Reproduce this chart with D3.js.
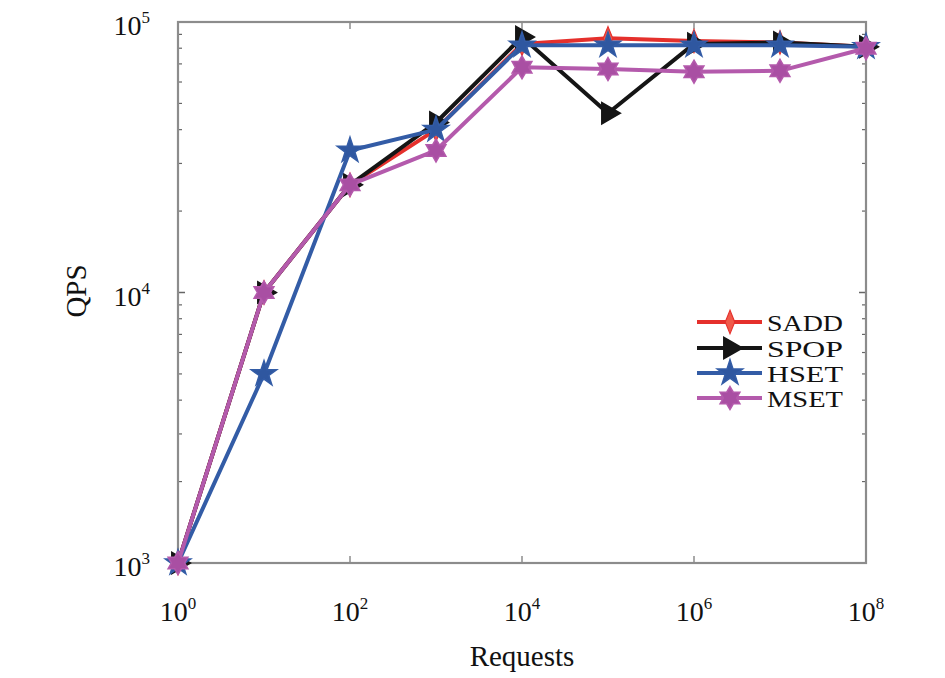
<!DOCTYPE html>
<html>
<head>
<meta charset="utf-8">
<script src="https://cdn.jsdelivr.net/npm/d3@7"></script>
<style>
  body { margin: 0; background: #fff; }
  text { font-family: "Liberation Serif", "Times New Roman", serif; fill: #111; }
</style>
</head>
<body>
<div id="chart"></div>
<script>
// requests (x) for every series
var requests = [1, 1e1, 1e2, 1e3, 1e4, 1e5, 1e6, 1e7, 1e8];

// QPS values
var sadd = [1000, 10000, 25000, 40000, 83000, 87000, 85000, 84000, 81000];
var spop = [1000, 10000, 25000, 42500, 88000, 46000, 83000, 84000, 81000];
var hset = [1000, 5000, 33500, 40000, 82000, 82000, 82000, 82000, 81000];
var mset = [1000, 10000, 25000, 33500, 68000, 67000, 65500, 66000, 80000];

var seriesNames = ["SADD", "SPOP", "HSET", "MSET"];
var xTickExp = [0, 2, 4, 6, 8];
var yTickExp = [3, 4, 5];

var width = 945, height = 678;
var margin = {top: 22, right: 79, bottom: 115, left: 178};

var svg = d3.select("#chart")
  .append("svg")
    .attr("width", width)
    .attr("height", height);

var x = d3.scaleLog()
  .domain([1, 1e8])
  .range([margin.left, width - margin.right]);

var y = d3.scaleLog()
  .domain([1e3, 1e5])
  .range([height - margin.bottom, margin.top]);

var axisColor = "#8c8c8c";

// minor log ticks on the y axis (left and right)
var minor = [];
[1e3, 1e4].forEach(function(d) {
  for (var k = 2; k <= 9; k++) minor.push(d * k);
});

svg.selectAll(".minor-l")
  .data(minor)
  .enter()
  .append("line")
    .attr("x1", x(1)).attr("x2", x(1) + 4)
    .attr("y1", function(d) { return y(d); })
    .attr("y2", function(d) { return y(d); })
    .attr("stroke", "#666").attr("stroke-width", 1.2);

svg.selectAll(".minor-r")
  .data(minor)
  .enter()
  .append("line")
    .attr("x1", x(1e8)).attr("x2", x(1e8) - 4)
    .attr("y1", function(d) { return y(d); })
    .attr("y2", function(d) { return y(d); })
    .attr("stroke", "#666").attr("stroke-width", 1.2);

// major ticks
xTickExp.forEach(function(e) {
  var px = x(Math.pow(10, e));
  svg.append("line").attr("x1", px).attr("x2", px)
    .attr("y1", y(1e3)).attr("y2", y(1e3) - 7)
    .attr("stroke", axisColor).attr("stroke-width", 1.5);
  svg.append("line").attr("x1", px).attr("x2", px)
    .attr("y1", y(1e5)).attr("y2", y(1e5) + 7)
    .attr("stroke", axisColor).attr("stroke-width", 1.5);
});
yTickExp.forEach(function(e) {
  var py = y(Math.pow(10, e));
  svg.append("line").attr("x1", x(1)).attr("x2", x(1) + 7)
    .attr("y1", py).attr("y2", py)
    .attr("stroke", "#666").attr("stroke-width", 1.5);
  svg.append("line").attr("x1", x(1e8)).attr("x2", x(1e8) - 7)
    .attr("y1", py).attr("y2", py)
    .attr("stroke", "#666").attr("stroke-width", 1.5);
});

// frame
svg.append("rect")
  .attr("x", x(1))
  .attr("y", y(1e5))
  .attr("width", x(1e8) - x(1))
  .attr("height", y(1e3) - y(1e5))
  .attr("fill", "none")
  .attr("stroke", axisColor)
  .attr("stroke-width", 2.2);

// tick labels
var xl = svg.selectAll(".xlab")
  .data(xTickExp)
  .enter()
  .append("text")
    .attr("class", "xlab")
    .attr("x", function(d) { return x(Math.pow(10, d)); })
    .attr("y", 621)
    .attr("text-anchor", "middle")
    .style("font-size", "28px");
xl.append("tspan").text("10");
xl.append("tspan").attr("dy", -12).style("font-size", "17px").text(function(d) { return d; });

var yl = svg.selectAll(".ylab")
  .data(yTickExp)
  .enter()
  .append("text")
    .attr("class", "ylab")
    .attr("x", 150)
    .attr("y", function(d) { return y(Math.pow(10, d)) + 13; })
    .attr("text-anchor", "end")
    .style("font-size", "28px");
yl.append("tspan").text("10");
yl.append("tspan").attr("dy", -12).style("font-size", "17px").text(function(d) { return d; });

// axis titles
svg.append("text")
  .attr("x", 522)
  .attr("y", 666)
  .attr("text-anchor", "middle")
  .style("font-size", "29px")
  .text("Requests");

svg.append("text")
  .attr("transform", "translate(86,291) rotate(-90)")
  .attr("text-anchor", "middle")
  .style("font-size", "29px")
  .text("QPS");

// hexagram symbol for MSET
var symbolHexagram = {
  draw: function(context, size) {
    var r = Math.sqrt(size / 1.6);
    var ri = r * 0.58;
    for (var i = 0; i < 12; i++) {
      var a = -Math.PI / 2 + i * Math.PI / 6;
      var rr = i % 2 === 0 ? r : ri;
      if (i === 0) context.moveTo(rr * Math.cos(a), rr * Math.sin(a));
      else context.lineTo(rr * Math.cos(a), rr * Math.sin(a));
    }
    context.closePath();
  }
};

var series = [
  {name: seriesNames[0], values: sadd, color: "#e5302c", fill: "#f05a4a", symbol: d3.symbolDiamond, size: 160, rot: 0, scaleX: 0.7},
  {name: seriesNames[1], values: spop, color: "#151515", fill: "#151515", symbol: d3.symbolTriangle, size: 200, rot: 90, scaleX: 1},
  {name: seriesNames[2], values: hset, color: "#335ca6", fill: "#2f57a0", symbol: d3.symbolStar, size: 200, rot: 0, scaleX: 1},
  {name: seriesNames[3], values: mset, color: "#b45aac", fill: "#a94fa3", symbol: symbolHexagram, size: 210, rot: 0, scaleX: 1}
];

var line = d3.line()
  .x(function(d) { return x(d[0]); })
  .y(function(d) { return y(d[1]); });

series.forEach(function(s) {
  var pts = requests.map(function(r, i) { return [r, s.values[i]]; });
  var g = svg.append("g");
  g.append("path")
    .datum(pts)
    .attr("fill", "none")
    .attr("stroke", s.color)
    .attr("stroke-width", 4)
    .attr("stroke-linejoin", "round")
    .attr("d", line);
  g.selectAll("path.mk")
    .data(pts)
    .enter()
    .append("path")
      .attr("class", "mk")
      .attr("d", d3.symbol().type(s.symbol).size(s.size))
      .attr("fill", s.fill)
      .attr("stroke", s.color)
      .attr("stroke-width", 1.5)
      .attr("transform", function(d) {
        return "translate(" + x(d[0]) + "," + y(d[1]) + ") rotate(" + s.rot + ") scale(" + s.scaleX + ",1)";
      });
});

// legend
var legend = svg.append("g");
var rowY = [322, 348, 373, 398];
series.forEach(function(s, i) {
  var ly = rowY[i];
  legend.append("line")
    .attr("x1", 697).attr("x2", 762)
    .attr("y1", ly).attr("y2", ly)
    .attr("stroke", s.color).attr("stroke-width", 4);
  legend.append("path")
    .attr("d", d3.symbol().type(s.symbol).size(s.size))
    .attr("fill", s.fill)
    .attr("stroke", s.color)
    .attr("stroke-width", 1.5)
    .attr("transform", "translate(730," + ly + ") rotate(" + s.rot + ") scale(" + s.scaleX + ",1)");
  legend.append("text")
    .attr("x", 767)
    .attr("y", ly + 9)
    .attr("textLength", 76)
    .attr("lengthAdjust", "spacingAndGlyphs")
    .style("font-size", "24px")
    .text(s.name);
});
</script>
</body>
</html>
